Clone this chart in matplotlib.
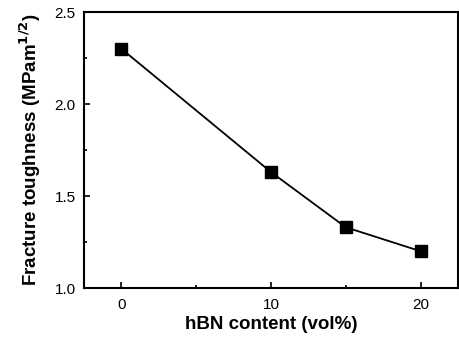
import matplotlib
matplotlib.use("Agg")
import matplotlib.pyplot as plt
from matplotlib.ticker import MultipleLocator

plt.rcParams['font.family'] = ['Liberation Sans', 'DejaVu Sans']

hbn_content = [0, 10, 15, 20]
toughness = [2.30, 1.63, 1.33, 1.20]
xticks = [0, 10, 20]
yticks = [1.0, 1.5, 2.0, 2.5]

fig = plt.figure(figsize=(4.59, 3.37), dpi=100)
ax = fig.add_axes([84/459, (337-288)/337, (458-84)/459, (288-12)/337])
ax.plot(hbn_content, toughness, color='black', lw=1.3, marker='s', ms=8,
        markerfacecolor='black', markeredgecolor='black')
ax.set_xlim(-2.5, 22.5)
ax.set_ylim(1.0, 2.5)
ax.set_xticks(xticks)
ax.set_yticks(yticks)
ax.set_yticklabels([f"{v:.1f}" for v in yticks])
ax.xaxis.set_minor_locator(MultipleLocator(5))
ax.yaxis.set_minor_locator(MultipleLocator(0.25))
ax.tick_params(which='both', direction='in', labelsize=11, width=1.2)
ax.tick_params(axis='x', which='major', length=4, pad=7)
ax.tick_params(axis='y', which='major', length=4, pad=6)
ax.tick_params(which='minor', length=2.5)
for s in ax.spines.values():
    s.set_linewidth(1.5)
ax.set_xlabel("hBN content (vol%)", fontsize=13.5, fontweight='bold', labelpad=3)
ax.set_ylabel("Fracture toughness (MPam$^{\\mathbf{1/2}}$)", fontsize=13.5, fontweight='bold', labelpad=8)
fig.savefig("out.png", dpi=100)
